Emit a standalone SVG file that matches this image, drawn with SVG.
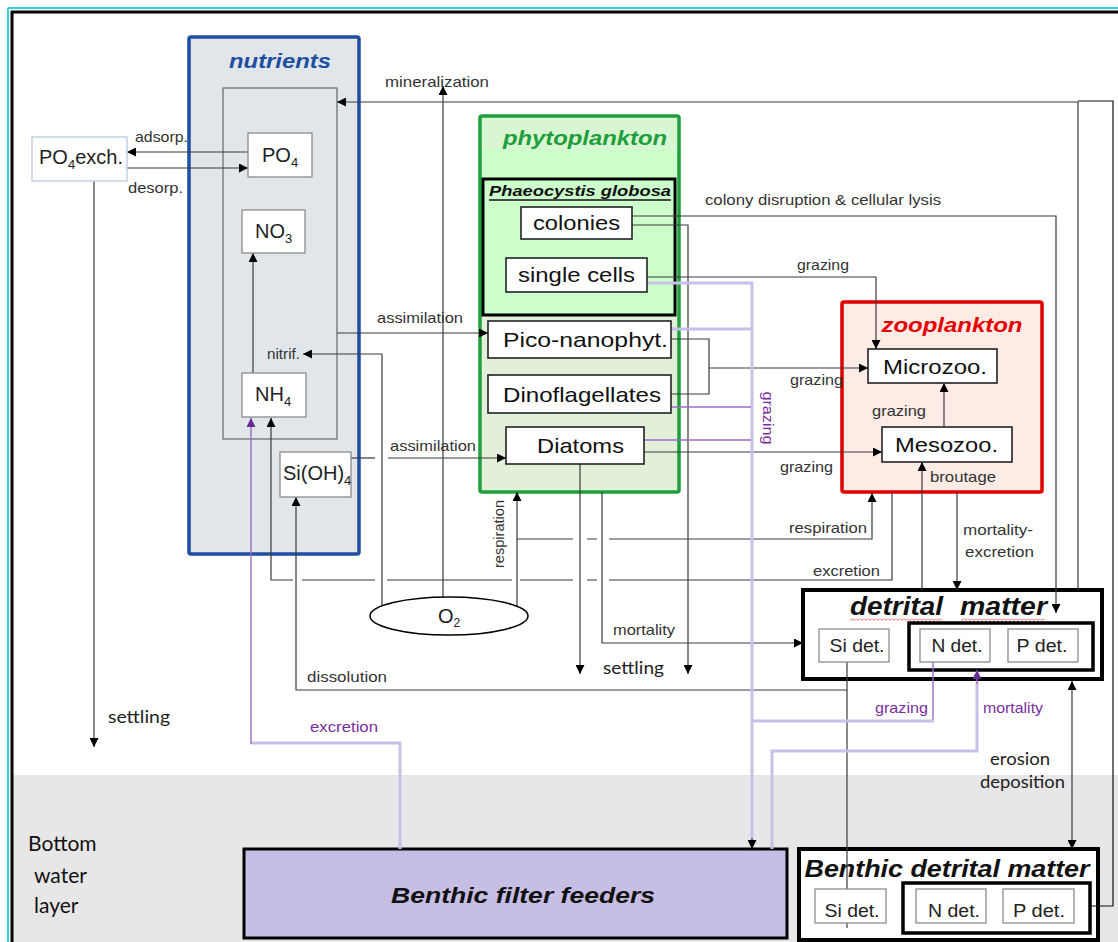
<svg xmlns="http://www.w3.org/2000/svg" width="1118" height="942" viewBox="0 0 1118 942">
<defs>
<style>
.ln{fill:none;stroke:#3a3a3a;stroke-width:1.2}
.lav{fill:none;stroke:#c8c0e8;stroke-width:3}
.pur{fill:none;stroke:#9b6cc4;stroke-width:1.4}
.lbl{font-family:"Liberation Sans",Arial,sans-serif;font-size:15px;fill:#333}
.plbl{font-family:"Liberation Sans",Arial,sans-serif;font-size:15px;fill:#7a2e9e}
.cal{font-family:Lato,"Open Sans",sans-serif;font-size:17px;fill:#222}
.big{font-family:Lato,"Open Sans",sans-serif;font-size:21px;fill:#111}
.box{fill:#fff;stroke:#222;stroke-width:1.6}
.gbox{fill:#fff;stroke:#8c8c8c;stroke-width:1.3}
.bt{font-family:"Liberation Sans",Arial,sans-serif;font-size:21px;fill:#111;text-anchor:middle}
.nt{font-family:"Liberation Sans",Arial,sans-serif;font-size:20px;fill:#222}
.dt{font-family:"Liberation Sans",Arial,sans-serif;font-size:18px;fill:#222;text-anchor:middle}
.ttl{font-family:"Liberation Sans",Arial,sans-serif;font-weight:bold;font-style:italic}
</style>
<marker id="ah" viewBox="0 0 10 10" refX="10" refY="5" markerWidth="10" markerHeight="9" markerUnits="userSpaceOnUse" orient="auto-start-reverse"><path d="M0,0 L10,5 L0,10 z" fill="#000"/></marker>
<marker id="ahp" viewBox="0 0 10 10" refX="10" refY="5" markerWidth="10" markerHeight="9" markerUnits="userSpaceOnUse" orient="auto"><path d="M0,0 L10,5 L0,10 z" fill="#6a2a96"/></marker>
<pattern id="wave" width="4" height="3" patternUnits="userSpaceOnUse"><path d="M0,0.5 L2,2.5 L4,0.5" fill="none" stroke="#e03c3c" stroke-width="0.8"/></pattern>
</defs>

<g id="background">
<rect x="0" y="0" width="1118" height="942" fill="#fff"/>
<rect x="13" y="775" width="1105" height="167" fill="#e7e7e7"/>
<line x1="8" y1="8" x2="8" y2="942" stroke="#2fd3e0" stroke-width="2"/>
<line x1="8" y1="8" x2="1118" y2="8" stroke="#2fd3e0" stroke-width="2"/>
<line x1="12" y1="11" x2="12" y2="942" stroke="#000" stroke-width="3"/>
<line x1="11" y1="12" x2="1118" y2="12" stroke="#000" stroke-width="3"/>
<text class="big" x="28" y="851">Bottom</text>
<text class="big" x="34" y="883">water</text>
<text class="big" x="34" y="913">layer</text>
</g>

<g id="nutrients">
<rect x="189" y="37" width="170" height="517" fill="#e0e6ea" stroke="#1f4fa0" stroke-width="3.5" rx="2"/>
<rect x="223" y="88" width="114" height="351" fill="none" stroke="#666" stroke-width="1.2"/>
<text class="ttl" x="280" y="68" font-size="21" fill="#1f4fa0" text-anchor="middle" textLength="102" lengthAdjust="spacingAndGlyphs">nutrients</text>
</g>

<g id="phytoplankton">
<rect x="480" y="116" width="199" height="376" fill="#e2f0d9" stroke="#1e9e3c" stroke-width="3.5" rx="2"/>
<rect x="482" y="118" width="195" height="197" fill="#ccffcc"/>
<rect x="482" y="118" width="195" height="31" fill="#d9f6d2"/>
<text class="ttl" x="585" y="145" font-size="21" fill="#1e9e3c" text-anchor="middle" textLength="164" lengthAdjust="spacingAndGlyphs">phytoplankton</text>
</g>

<g id="phaeocystis">
<rect x="483" y="179" width="192" height="136" fill="none" stroke="#000" stroke-width="3"/>
<text class="ttl" x="580" y="196" font-size="15" fill="#111" text-anchor="middle" textLength="182" lengthAdjust="spacingAndGlyphs">Phaeocystis globosa</text>
<line x1="489" y1="200" x2="671" y2="200" stroke="#111" stroke-width="1.3"/>
</g>

<g id="zooplankton">
<rect x="842" y="302" width="200" height="190" fill="#fdece6" stroke="#e00000" stroke-width="3.5" rx="2"/>
<text class="ttl" x="952" y="332" font-size="21" fill="#e60000" text-anchor="middle" textLength="141" lengthAdjust="spacingAndGlyphs">zooplankton</text>
</g>

<g id="detrital-matter">
<rect x="803" y="590" width="299" height="89" fill="#fff" stroke="#000" stroke-width="4"/>
<rect x="909" y="623" width="184" height="47" fill="none" stroke="#000" stroke-width="3.5"/>
<text class="ttl" x="850" y="615" font-size="26" fill="#111" textLength="93" lengthAdjust="spacingAndGlyphs">detrital</text>
<text class="ttl" x="960" y="615" font-size="26" fill="#111" textLength="87" lengthAdjust="spacingAndGlyphs">matter</text>
<rect x="850" y="618" width="92" height="3" fill="url(#wave)"/>
<rect x="961" y="618" width="84" height="3" fill="url(#wave)"/>
</g>

<g id="benthic-detrital">
<rect x="799" y="849" width="299" height="91" fill="#fff" stroke="#000" stroke-width="4"/>
<rect x="903" y="883" width="187" height="50" fill="none" stroke="#000" stroke-width="3.5"/>
<text class="ttl" x="947" y="877" font-size="23" fill="#111" text-anchor="middle" textLength="285" lengthAdjust="spacingAndGlyphs">Benthic detrital matter</text>
</g>

<g id="benthic-filter-feeders">
<rect x="244" y="849" width="543" height="89" fill="#c6bee4" stroke="#000" stroke-width="3"/>
<text class="ttl" x="523" y="903" font-size="22" fill="#111" text-anchor="middle" textLength="264" lengthAdjust="spacingAndGlyphs">Benthic filter feeders</text>
</g>

<g id="connectors">
<path class="ln" d="M248,152 H127" marker-end="url(#ah)"/>
<path class="ln" d="M127,168 H248" marker-end="url(#ah)"/>
<path class="ln" d="M94,181 V747" marker-end="url(#ah)"/>
<path class="ln" d="M1078,590 V102 H337" marker-end="url(#ah)"/>
<path fill="none" stroke="#111" stroke-width="1.2" d="M1090,906 H1113 V101 H1078"/>
<path class="ln" d="M443,597 V86" marker-end="url(#ah)"/>
<path class="ln" d="M382,606 V354 H303" marker-end="url(#ah)"/>
<path class="ln" d="M253,373 V253" marker-end="url(#ah)"/>
<path class="ln" d="M337,333 H488" marker-end="url(#ah)"/>
<path class="ln" d="M351,458 H375"/>
<path class="ln" d="M388,458 H506" marker-end="url(#ah)"/>
<path class="ln" d="M517,606 V492" marker-end="url(#ah)"/>
<path class="ln" d="M517,539 H573 M587,539 H597"/>
<path class="ln" d="M609,539 H872 V493" marker-end="url(#ah)"/>
<path class="ln" d="M892,492 V580 H609 M597,580 H587 M573,580 H520 M512,580 H387 M375,580 H302"/>
<path class="ln" d="M293,580 H271 V418" marker-end="url(#ah)"/>
<path class="ln" d="M847,690 H296 V497" marker-end="url(#ah)"/>
<path class="ln" d="M847,662 V928"/>
<path class="ln" d="M632,216 H1056 V613" marker-end="url(#ah)"/>
<path class="ln" d="M632,225 H688 V674" marker-end="url(#ah)"/>
<path class="ln" d="M580,464 V674" marker-end="url(#ah)"/>
<path class="ln" d="M602,492 V643 H803" marker-end="url(#ah)"/>
<path class="ln" d="M647,277 H876 V349" marker-end="url(#ah)"/>
<path class="ln" d="M671,339 H709 V394 H671"/>
<path class="ln" d="M709,368 H868" marker-end="url(#ah)"/>
<path class="ln" d="M644,452 H882" marker-end="url(#ah)"/>
<path class="ln" d="M944,427 V383" marker-end="url(#ah)"/>
<path class="ln" d="M922,590 V462" marker-end="url(#ah)"/>
<path class="ln" d="M957,492 V590" marker-end="url(#ah)"/>
<path class="ln" d="M1072,849 V681" marker-start="url(#ah)" marker-end="url(#ah)"/>
<path class="lav" d="M647,283 H752 V840"/>
<path class="ln" d="M752,838 V849" marker-end="url(#ah)"/>
<path class="lav" d="M671,329 H752"/>
<path class="pur" d="M671,407 H751"/>
<path class="pur" d="M644,440 H751"/>
<path class="pur" d="M933,662 V720"/>
<path class="lav" d="M934,721 H752"/>
<path class="lav" d="M772,849 V751 H977 V682"/>
<path fill="none" stroke="#9b6cc4" stroke-width="1.4" d="M977,684 V670" marker-end="url(#ahp)"/>
<path class="lav" d="M400,849 V743 H251"/>
<path class="pur" d="M251,744 V418" marker-end="url(#ahp)"/>
</g>

<g id="o2">
<ellipse cx="449" cy="616" rx="79" ry="19" fill="#fff" stroke="#000" stroke-width="1.5"/>
<text class="nt" x="438" y="623">O<tspan font-size="12" dy="4">2</tspan></text>
</g>

<g id="po4exch">
<rect x="32" y="137" width="95" height="44" fill="#fff" stroke="#b8c8e0" stroke-width="1.3"/>
<text class="nt" x="39" y="164">PO<tspan font-size="13" dy="5">4</tspan><tspan dy="-5">exch.</tspan></text>
</g>
<g id="po4"><rect class="gbox" x="248" y="133" width="64" height="44"/><text class="nt" x="262" y="162">PO<tspan font-size="13" dy="5">4</tspan></text></g>
<g id="no3"><rect class="gbox" x="242" y="210" width="63" height="43"/><text class="nt" x="255" y="238">NO<tspan font-size="13" dy="5">3</tspan></text></g>
<g id="nh4"><rect class="gbox" x="242" y="373" width="64" height="44"/><text class="nt" x="255" y="401">NH<tspan font-size="13" dy="5">4</tspan></text></g>
<g id="sioh4"><rect class="gbox" x="280" y="452" width="71" height="45"/><text class="nt" x="283" y="480">Si(OH)<tspan font-size="13" dy="5">4</tspan></text></g>

<g id="colonies"><rect class="box" x="521" y="207" width="111" height="32"/><text class="bt" x="576.5" y="230" textLength="87" lengthAdjust="spacingAndGlyphs">colonies</text></g>
<g id="single-cells"><rect class="box" x="506" y="258" width="141" height="34"/><text class="bt" x="576.5" y="282" textLength="117" lengthAdjust="spacingAndGlyphs">single cells</text></g>
<g id="pico"><rect class="box" x="488" y="321" width="183" height="37"/><text class="bt" x="585.5" y="347" textLength="165" lengthAdjust="spacingAndGlyphs">Pico-nanophyt.</text></g>
<g id="dino"><rect class="box" x="488" y="375" width="183" height="38"/><text class="bt" x="582" y="402" textLength="158" lengthAdjust="spacingAndGlyphs">Dinoflagellates</text></g>
<g id="diatoms"><rect class="box" x="506" y="427" width="138" height="37"/><text class="bt" x="580.5" y="453" textLength="87" lengthAdjust="spacingAndGlyphs">Diatoms</text></g>
<g id="microzoo"><rect class="box" x="868" y="349" width="129" height="34"/><text class="bt" x="935" y="374" textLength="104" lengthAdjust="spacingAndGlyphs">Microzoo.</text></g>
<g id="mesozoo"><rect class="box" x="882" y="427" width="130" height="35"/><text class="bt" x="946.5" y="452" textLength="103" lengthAdjust="spacingAndGlyphs">Mesozoo.</text></g>

<g id="si-det"><rect class="gbox" x="819" y="629" width="70" height="33"/><text class="dt" x="857" y="652" textLength="55" lengthAdjust="spacingAndGlyphs">Si det.</text></g>
<g id="n-det"><rect class="gbox" x="920" y="629" width="70" height="33"/><text class="dt" x="957" y="652" textLength="51" lengthAdjust="spacingAndGlyphs">N det.</text></g>
<g id="p-det"><rect class="gbox" x="1008" y="629" width="70" height="33"/><text class="dt" x="1042" y="652" textLength="51" lengthAdjust="spacingAndGlyphs">P det.</text></g>
<g id="b-si-det"><rect class="gbox" x="815" y="889" width="71" height="34"/><text class="dt" x="852" y="917" textLength="55" lengthAdjust="spacingAndGlyphs">Si det.</text></g>
<g id="b-n-det"><rect class="gbox" x="916" y="889" width="70" height="34"/><text class="dt" x="954" y="917" textLength="52" lengthAdjust="spacingAndGlyphs">N det.</text></g>
<g id="b-p-det"><rect class="gbox" x="1003" y="889" width="71" height="34"/><text class="dt" x="1039" y="917" textLength="52" lengthAdjust="spacingAndGlyphs">P det.</text></g>

<g id="labels">
<text class="lbl" x="385" y="87" textLength="104" lengthAdjust="spacingAndGlyphs">mineralization</text>
<text class="lbl" x="135" y="142" textLength="53" lengthAdjust="spacingAndGlyphs">adsorp.</text>
<text class="lbl" x="128" y="193" textLength="55" lengthAdjust="spacingAndGlyphs">desorp.</text>
<text class="lbl" x="267" y="359" textLength="33" lengthAdjust="spacingAndGlyphs">nitrif.</text>
<text class="lbl" x="377" y="323" textLength="86" lengthAdjust="spacingAndGlyphs">assimilation</text>
<text class="lbl" x="390" y="451" textLength="86" lengthAdjust="spacingAndGlyphs">assimilation</text>
<text class="lbl" x="705" y="205" textLength="236" lengthAdjust="spacingAndGlyphs">colony disruption &amp; cellular lysis</text>
<text class="lbl" x="797" y="270" textLength="52" lengthAdjust="spacingAndGlyphs">grazing</text>
<text class="lbl" x="790" y="385" textLength="53" lengthAdjust="spacingAndGlyphs">grazing</text>
<text class="lbl" x="780" y="472" textLength="53" lengthAdjust="spacingAndGlyphs">grazing</text>
<text class="lbl" x="872" y="416" textLength="54" lengthAdjust="spacingAndGlyphs">grazing</text>
<text class="lbl" x="930" y="482" textLength="66" lengthAdjust="spacingAndGlyphs">broutage</text>
<text class="lbl" x="789" y="533" textLength="78" lengthAdjust="spacingAndGlyphs">respiration</text>
<text class="lbl" x="813" y="576" textLength="67" lengthAdjust="spacingAndGlyphs">excretion</text>
<text class="lbl" x="963" y="535" textLength="70" lengthAdjust="spacingAndGlyphs">mortality-</text>
<text class="lbl" x="965" y="557" textLength="69" lengthAdjust="spacingAndGlyphs">excretion</text>
<text class="lbl" x="613" y="635" textLength="62" lengthAdjust="spacingAndGlyphs">mortality</text>
<text class="lbl" transform="translate(504,534) rotate(-90)" text-anchor="middle" textLength="68" lengthAdjust="spacingAndGlyphs">respiration</text>
<text class="lbl" x="307" y="682" textLength="80" lengthAdjust="spacingAndGlyphs">dissolution</text>
<text class="cal" x="603" y="674" textLength="61" lengthAdjust="spacingAndGlyphs">settling</text>
<text class="cal" x="108" y="723" textLength="62" lengthAdjust="spacingAndGlyphs">settling</text>
<text class="cal" x="990" y="765" textLength="60" lengthAdjust="spacingAndGlyphs">erosion</text>
<text class="cal" x="980" y="788" textLength="85" lengthAdjust="spacingAndGlyphs">deposition</text>
<text class="plbl" transform="translate(763,418) rotate(90)" text-anchor="middle" textLength="53" lengthAdjust="spacingAndGlyphs">grazing</text>
<text class="plbl" x="875" y="713" textLength="53" lengthAdjust="spacingAndGlyphs">grazing</text>
<text class="plbl" x="983" y="713" textLength="60" lengthAdjust="spacingAndGlyphs">mortality</text>
<text class="plbl" x="310" y="732" textLength="68" lengthAdjust="spacingAndGlyphs">excretion</text>
</g>
</svg>
